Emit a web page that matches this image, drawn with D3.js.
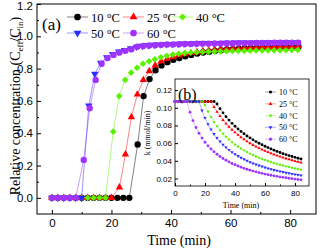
<!DOCTYPE html>
<html>
<head>
<meta charset="utf-8">
<script src="https://cdn.jsdelivr.net/npm/d3@7"></script>
<style>
body { margin: 0; background: #fff; }
text { fill: #000; font-weight: normal; }
</style>
</head>
<body>
<script>

// ---- data ----
const names = ["10 °C", "25 °C", "40 °C", "50 °C", "60 °C"];
const colors = ["#000000", "#ff0000", "#5cf000", "#2b2bff", "#a033ff"];

// (a) breakthrough curves, C_eff/C_in vs time (min)
const t10 = [0,2,4,6,8,10,12,14,16,18,20,22,24,26,28.8,30.8,32.8,34.8,36.8,38.8,40.8,42.8,44.8,46.8,48.8,50.8,52.8,54.8,56.8,58.8,60.8,62.8,64.8,66.8,68.8,70.8,72.8,74.8,76.8,78.8,80.8,82.8];
const c10 = [0,0,0,0,0,0,0,0,0,0,0,0,0,0,0.33,0.63,0.735,0.79,0.82,0.84,0.855,0.866,0.876,0.885,0.893,0.9,0.905,0.91,0.914,0.918,0.921,0.924,0.926,0.928,0.93,0.931,0.932,0.933,0.934,0.935,0.936,0.937];
const t25 = [0,2,4,6,8,10,12,14,16,18,20,22.7,24.7,26.7,28.7,30.7,32.7,34.7,36.7,38.7,40.7,42.7,44.7,46.7,48.7,50.7,52.7,54.7,56.7,58.7,60.7,62.7,64.7,66.7,68.7,70.7,72.7,74.7,76.7,78.7,80.7,82.7];
const c25 = [0,0,0,0,0,0,0,0,0,0,0,0.065,0.27,0.5,0.64,0.73,0.785,0.82,0.845,0.86,0.872,0.882,0.89,0.897,0.903,0.908,0.912,0.916,0.919,0.922,0.924,0.926,0.928,0.93,0.931,0.933,0.934,0.935,0.936,0.937,0.938,0.94];
const t40 = [0,2,4,6,8,10,12,14,16,18,20.6,22.6,24.6,26.6,28.6,30.6,32.6,34.6,36.6,38.6,40.6,42.6,44.6,46.6,48.6,50.6,52.6,54.6,56.6,58.6,60.6,62.6,64.6,66.6,68.6,70.6,72.6,74.6,76.6,78.6,80.6,82.6];
const c40 = [0,0,0,0,0,0,0,0,0,0,0.41,0.63,0.73,0.775,0.805,0.83,0.845,0.858,0.87,0.88,0.887,0.892,0.896,0.899,0.901,0.903,0.905,0.906,0.907,0.908,0.909,0.91,0.91,0.911,0.912,0.912,0.913,0.913,0.914,0.914,0.915,0.916];
const t50 = [0,2,4,6,8,10,12.4,14.4,16.4,18.4,20.4,22.4,24.4,26.4,28.4,30.4,32.4,34.4,36.4,38.4,40.4,42.4,44.4,46.4,48.4,50.4,52.4,54.4,56.4,58.4,60.4,62.4,64.4,66.4,68.4,70.4,72.4,74.4,76.4,78.4,80.4,82.4];
const c50 = [0,0,0,0,0,0,0.57,0.767,0.835,0.87,0.89,0.905,0.915,0.925,0.935,0.94,0.944,0.947,0.949,0.951,0.952,0.953,0.954,0.955,0.956,0.957,0.957,0.958,0.958,0.959,0.959,0.96,0.96,0.961,0.961,0.961,0.962,0.962,0.962,0.963,0.963,0.963];
const t60 = [0,2,4,6,8,10.7,12.7,14.7,16.7,18.7,20.7,22.7,24.7,26.7,28.7,30.7,32.7,34.7,36.7,38.7,40.7,42.7,44.7,46.7,48.7,50.7,52.7,54.7,56.7,58.7,60.7,62.7,64.7,66.7,68.7,70.7,72.7,74.7,76.7,78.7,80.7,82.7];
const c60 = [0,0,0,0,0,0.235,0.555,0.73,0.83,0.865,0.885,0.9,0.91,0.92,0.935,0.94,0.943,0.945,0.947,0.949,0.95,0.951,0.952,0.953,0.954,0.955,0.955,0.956,0.956,0.957,0.957,0.958,0.958,0.958,0.959,0.959,0.959,0.96,0.96,0.96,0.961,0.961];

// (b) k (mmol/min) vs time (min)
const kTime = [0,2,4,6,8,10,12,14,16,18,20,22,24,26,28,30,32,34,36,38,40,42,44,46,48,50,52,54,56,58,60,62,64,66,68,70,72,74,76,78,80,82,84];
const k10 = [0.107,0.107,0.107,0.107,0.107,0.107,0.107,0.107,0.107,0.107,0.107,0.107,0.107,0.107,0.1042,0.0989,0.0942,0.0899,0.086,0.0824,0.0791,0.076,0.0732,0.0706,0.0681,0.0659,0.0637,0.0617,0.0599,0.0581,0.0564,0.0549,0.0534,0.052,0.0506,0.0494,0.0481,0.047,0.0459,0.0449,0.0439,0.0429,0.042];
const k25 = [0.107,0.107,0.107,0.107,0.107,0.107,0.107,0.107,0.107,0.107,0.107,0.107,0.107,0.1009,0.0954,0.0905,0.0861,0.0821,0.0785,0.0751,0.0721,0.0693,0.0666,0.0642,0.062,0.0599,0.0579,0.0561,0.0544,0.0527,0.0512,0.0498,0.0484,0.0471,0.0459,0.0447,0.0436,0.0426,0.0416,0.0406,0.0397,0.0388,0.038];
const k40 = [0.107,0.107,0.107,0.107,0.107,0.107,0.107,0.107,0.107,0.107,0.103,0.0957,0.0894,0.0838,0.079,0.0746,0.0707,0.0672,0.064,0.0611,0.0585,0.0561,0.0539,0.0518,0.0499,0.0481,0.0465,0.0449,0.0435,0.0421,0.0409,0.0397,0.0385,0.0375,0.0365,0.0355,0.0346,0.0337,0.0329,0.0321,0.0314,0.0307,0.03];
const k50 = [0.107,0.107,0.107,0.107,0.107,0.107,0.107,0.107,0.107,0.0969,0.0885,0.0815,0.0755,0.0703,0.0658,0.0618,0.0583,0.0551,0.0523,0.0498,0.0475,0.0454,0.0434,0.0417,0.04,0.0385,0.0371,0.0358,0.0346,0.0335,0.0324,0.0314,0.0305,0.0296,0.0288,0.028,0.0273,0.0265,0.0259,0.0252,0.0246,0.0241,0.0235];
const k60 = [0.107,0.107,0.107,0.107,0.107,0.095,0.0855,0.0777,0.0712,0.0657,0.061,0.0569,0.0533,0.0502,0.0474,0.0449,0.0426,0.0406,0.0387,0.037,0.0355,0.0341,0.0328,0.0315,0.0304,0.0294,0.0284,0.0275,0.0266,0.0258,0.025,0.0243,0.0236,0.023,0.0224,0.0218,0.0213,0.0208,0.0203,0.0198,0.0193,0.0189,0.0185];

const xTicks = [0, 20, 40, 60, 80];
const xMinor = [10, 30, 50, 70];
const yTicks = [0, 0.2, 0.4, 0.6, 0.8, 1.0, 1.2];
const yMinor = [0.1, 0.3, 0.5, 0.7, 0.9, 1.1];
const kTicks = [0.02, 0.04, 0.06, 0.08, 0.10, 0.12];

const series = [
  { t: t10, c: c10, k: k10 },
  { t: t25, c: c25, k: k25 },
  { t: t40, c: c40, k: k40 },
  { t: t50, c: c50, k: k50 },
  { t: t60, c: c60, k: k60 }
];

const sans = "'Liberation Sans', Arial, sans-serif";
const serif = "'Liberation Serif', 'Times New Roman', serif";

const svg = d3.select("body").append("svg")
    .attr("width", 322)
    .attr("height", 248);

// marker shapes: circle, triangle, diamond, triangle down, circle
function marker(sel, i, scale) {
  const types = [d3.symbolCircle, d3.symbolTriangle, d3.symbolSquare, d3.symbolTriangle, d3.symbolCircle];
  const sizes = [32, 24, 22, 24, 32];
  const rot = [0, 0, 45, 180, 0];
  sel.attr("d", d3.symbol(types[i], sizes[i] * scale)())
     .attr("fill", colors[i]);
  return rot[i];
}

// ---------- main chart (a) ----------
const x = d3.scaleLinear().domain([-5, 88.7]).range([37, 316]);
const y = d3.scaleLinear().domain([-0.1, 1.2]).range([214, 4]);

svg.append("rect")
    .attr("x", 37).attr("y", 4)
    .attr("width", 279).attr("height", 210)
    .attr("fill", "none").attr("stroke", "#000").attr("stroke-width", 1);

svg.append("g").attr("transform", "translate(0,214)")
    .call(d3.axisBottom(x).tickValues(xTicks).tickSize(-4).tickPadding(5).tickFormat(d3.format("d")));
svg.append("g").attr("transform", "translate(0,214)")
    .call(d3.axisBottom(x).tickValues(xMinor).tickSize(-2).tickFormat(""));
const gy = svg.append("g").attr("transform", "translate(37,0)")
    .call(d3.axisLeft(y).tickValues(yTicks).tickSize(-4).tickPadding(4).tickFormat(d3.format(".1f")));
svg.append("g").attr("transform", "translate(37,0)")
    .call(d3.axisLeft(y).tickValues(yMinor).tickSize(-2).tickFormat(""));
svg.selectAll(".domain").remove();
svg.selectAll(".tick text").attr("font-family", sans).attr("font-size", 11.5);
// top label sits right at the edge; nudge it down so it is not clipped
gy.selectAll(".tick text").filter(d => d === 1.2).attr("dy", "0.45em");

const line = d3.line().x(d => x(d[0])).y(d => y(d[1]));

series.forEach((s, i) => {
  const pts = s.t.map((t, j) => [t, s.c[j]]);
  svg.append("path")
      .attr("d", line(pts))
      .attr("fill", "none")
      .attr("stroke", colors[i])
      .attr("stroke-opacity", 0.7)
      .attr("stroke-width", 0.7);
  svg.append("g").selectAll("path")
      .data(pts)
      .join("path")
      .each(function (d) {
        const r = marker(d3.select(this), i, 1);
        d3.select(this).attr("transform", `translate(${x(d[0])},${y(d[1])}) rotate(${r})`);
      });
});

// legend (a)
const legCol = [67, 123, 172];
const legRow = [17, 33];
names.forEach((n, i) => {
  const lx = legCol[i % 3], ly = legRow[Math.floor(i / 3)];
  svg.append("line")
      .attr("x1", lx).attr("x2", lx + 21)
      .attr("y1", ly).attr("y2", ly)
      .attr("stroke", colors[i]).attr("stroke-width", 0.7).attr("stroke-opacity", 0.7);
  const m = svg.append("path");
  const r = marker(m, i, 1.1);
  m.attr("transform", `translate(${lx + 10.5},${ly}) rotate(${r})`);
  svg.append("text")
      .attr("x", lx + 24).attr("y", ly + 4.5)
      .attr("font-family", serif).attr("font-size", 12.5)
      .text(n);
});

svg.append("text")
    .attr("x", 42).attr("y", 30)
    .attr("font-family", serif).attr("font-size", 17)
    .text("(a)");

svg.append("text")
    .attr("x", 179).attr("y", 245)
    .attr("text-anchor", "middle")
    .attr("font-family", serif).attr("font-size", 14)
    .text("Time (min)");

const ylab = svg.append("text")
    .attr("transform", "translate(20,106) rotate(-90)")
    .attr("text-anchor", "middle")
    .attr("font-family", serif).attr("font-size", 14);
ylab.append("tspan").text("Relative concentration (C");
ylab.append("tspan").attr("font-size", 9).attr("dy", 3).text("eff");
ylab.append("tspan").attr("dy", -3).text("/C");
ylab.append("tspan").attr("font-size", 9).attr("dy", 3).text("in");
ylab.append("tspan").attr("dy", -3).text(")");
// keep the label within the reference span (about 184 px)
const ylw = ylab.node().getBBox().width;
if (ylw > 186) {
  const f = 184 / ylw;
  ylab.attr("font-size", 14 * f);
  ylab.selectAll("tspan").filter(function () { return this.getAttribute("font-size"); })
      .attr("font-size", 9 * f);
}

// ---------- inset (b) ----------
const xi = d3.scaleLinear().domain([0, 88]).range([175, 307]);
const yi = d3.scaleLinear().domain([0.0115, 0.1325]).range([186, 79]);

svg.append("rect")
    .attr("x", 175).attr("y", 79)
    .attr("width", 134).attr("height", 107)
    .attr("fill", "#fff").attr("stroke", "#000").attr("stroke-width", 0.8);

const inset = svg.append("g");
inset.append("g").attr("transform", "translate(0,186)")
    .call(d3.axisBottom(xi).tickValues(xTicks).tickSize(-3).tickPadding(4).tickFormat(d3.format("d")));
inset.append("g").attr("transform", "translate(0,186)")
    .call(d3.axisBottom(xi).tickValues(xMinor).tickSize(-1.5).tickFormat(""));
inset.append("g").attr("transform", "translate(175,0)")
    .call(d3.axisLeft(yi).tickValues(kTicks).tickSize(-3).tickPadding(3).tickFormat(d3.format(".2f")));
inset.selectAll(".domain").remove();
inset.selectAll(".tick text").attr("font-family", sans).attr("font-size", 8);

const lineK = d3.line().x(d => xi(d[0])).y(d => yi(d[1]));
series.forEach((s, i) => {
  const pts = kTime.map((t, j) => [t, s.k[j]]);
  inset.append("path")
      .attr("d", lineK(pts))
      .attr("fill", "none")
      .attr("stroke", colors[i])
      .attr("stroke-opacity", 0.6)
      .attr("stroke-width", 0.6);
  inset.append("g").selectAll("path")
      .data(pts)
      .join("path")
      .each(function (d) {
        const r = marker(d3.select(this), i, 0.2);
        d3.select(this).attr("transform", `translate(${xi(d[0])},${yi(d[1])}) rotate(${r})`);
      });
});

// legend (b)
names.forEach((n, i) => {
  const ly = 92 + i * 11.8;
  inset.append("line")
      .attr("x1", 265).attr("x2", 276)
      .attr("y1", ly).attr("y2", ly)
      .attr("stroke", colors[i]).attr("stroke-width", 0.6).attr("stroke-opacity", 0.6);
  const m = inset.append("path");
  const r = marker(m, i, 0.25);
  m.attr("transform", `translate(270.5,${ly}) rotate(${r})`);
  inset.append("text")
      .attr("x", 279).attr("y", ly + 3)
      .attr("font-family", serif).attr("font-size", 8)
      .text(n);
});

inset.append("text")
    .attr("x", 178).attr("y", 100)
    .attr("font-family", serif).attr("font-size", 16)
    .text("(b)");

inset.append("text")
    .attr("x", 241).attr("y", 208)
    .attr("text-anchor", "middle")
    .attr("font-family", serif).attr("font-size", 8)
    .text("Time (min)");

inset.append("text")
    .attr("transform", "translate(150,133) rotate(-90)")
    .attr("text-anchor", "middle")
    .attr("font-family", serif).attr("font-size", 8)
    .text("k (mmol/min)");

</script>
</body>
</html>
